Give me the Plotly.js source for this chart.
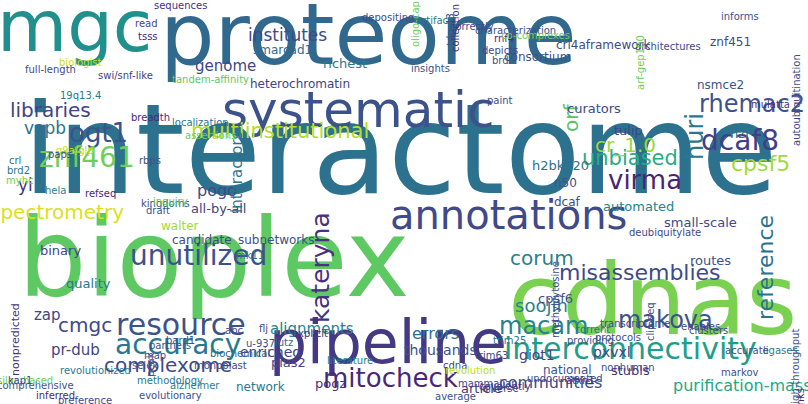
<!DOCTYPE html>
<html>
<head>
<meta charset="utf-8">
<script src="https://cdn.plot.ly/plotly-3.0.1.min.js"></script>
<style>html,body{margin:0;padding:0;background:#fff}#chart{width:808px;height:404px}</style>
</head>
<body>
<div id="chart"></div>
<script>
// word cloud: word, centre x, centre y (pixels), font size, colour, angle
const words = ['interactome','proteome','mgc','bioplex','cdnas','pipeline','systematic','annotations',
  'interconnectivity','multiinstitutional','rhemac2','dcaf8','cpsf5','ogt1','huri','unbiased','virma','znf461',
  'cr_1.0','libraries','orf','kateryna','unutilized','corum','misassemblies','reference','spectrometry','resource',
  'accuracy','complexome','macam','makova','mitocheck','soojin','cmgc','pr-dub','errors','thousands','alignments',
  'enriched','purification-mass','communities','article','network','pogz','giot1','pxvxl','stubls','national',
  'institutes','richest','consortium','curators','tulip','hzf','automated','small-scale','routes','heterochromatin',
  'genome','smarcad1','walter','candidate','subnetworks','binary','quality','zap','pias2','cpsf6','vapb','yi','dcaf',
  'h2bk120','n50','pogo','all-by-all','interactors','crl4aframework','znf451','nsmce2','sequences','read','tsss',
  'biologist','full-length','swi/snf-like','tandem-affinity','breadth','localization','assertions','g9a/glp','paps',
  'crl','brd2','myhc','hela','refseq','kingdoms','draft','inquiry','flj','lutz','mk11','abc','u-937','19q13.4',
  'nonpredicted','comprehensive','silac-based','inferred','preference','revolutionized','evolutionary','alzheimer',
  'diverse','covalently','markov','atxn1','undocumented','average','links','high-throughput','methodology',
  'monoblast','bard1','biochemical','kap1','selex','literature','cdna','revolution','mammalian','protocols',
  'torrent','transcriptome','clip-seq','clusters','ligases','accurate','nonhuman','rnf4','trim63','trim25',
  'characterization','depositing','artifact','correctly','co-complexes','architectures','informs','mulatta',
  'autoubiquitination','tdp-43','collection','oligo-cap','brd','depicts','arf-gep100','insights','paint',
  'deubiquitylate','methylcytosine','providing','enables','rbps','map','explicit','partners','peak'];
const xs = [400,368,74,214,652,388,358,508,630,280,752,740,760,98,695,630,645,87,
  625,50,571,320,198,542,640,765,57,181,178,168,543,665,390,541,85,75,435,440,312,
  270,742,550,481,260,330,537,612,630,567,
  287,345,537,594,628,740,638,700,710,300,
  225,282,180,202,276,60,88,47,288,555,45,25,567,
  560,565,217,218,237,603,730,720,180,146,148,
  80,50,125,210,150,200,210,75,60,
  15,18,20,55,100,165,158,170,263,284,250,234,260,80,
  15,35,25,55,85,95,170,195,
  500,505,740,580,565,455,800,795,170,
  220,180,240,20,145,350,455,470,488,618,
  593,635,650,708,780,747,628,504,491,509,
  515,388,434,472,535,668,740,770,
  796,450,455,415,500,500,640,430,500,
  665,555,590,700,150,155,310,170,150];
const ys = [150,34,26,258,300,342,110,215,348,131,104,140,163,133,137,158,180,157,
  145,110,118,268,255,258,272,268,212,324,344,365,326,320,378,305,325,350,333,350,329,
  352,385,382,388,387,383,355,352,370,370,
  35,63,57,108,130,133,206,222,260,84,
  66,50,226,240,240,250,283,315,362,298,128,185,202,
  165,183,190,208,172,45,42,85,5,23,36,
  62,69,75,79,117,122,135,150,154,
  160,170,180,190,193,203,210,201,328,342,255,330,343,95,
  340,385,380,395,400,370,395,385,
  388,386,372,380,378,396,400,370,380,
  365,340,353,380,365,360,365,370,383,337,
  329,323,322,330,350,350,367,38,355,340,
  30,17,20,26,35,46,16,104,
  100,30,28,24,60,50,63,68,100,
  232,300,340,326,160,355,333,345,365];
const sizes = [124,86,72,108,98,60,50,40,30,21,24,28,22,26,24,21,26,28,
  20,20,20,25,28,20,22,22,20,30,28,20,24,24,26,18,20,15,16,14,15,
  14,16,16,13,12,13,14,14,13,12,
  17,13,12,13,13,13,13,13,13,12,
  15,12,12,12,12,13,13,15,13,13,17,17,12,
  13,12,16,13,15,12,12,12,10,10,10,
  10,10,10,10,10,10,10,10,10,
  10,10,10,10,10,10,10,10,10,10,10,10,10,10,
  11,10,10,10,10,10,10,10,
  10,10,10,10,10,10,10,10,10,
  10,10,10,10,10,10,10,10,10,10,
  10,10,10,10,10,10,10,10,10,10,
  10,10,10,10,10,10,10,10,
  10,10,10,10,10,10,10,10,10,
  10,10,10,10,10,10,10,10,10];
const colors = ['#2c728e','#31688e','#21908d','#5ec962','#7ad151','#443983','#3b528b','#3e4a89',
  '#1f9e89','#b5de2b','#3b528b','#433e85','#a0da39','#3b528b','#2a788e','#27ad81','#482576','#6ece58',
  '#9bd93c','#414487','#52c569','#46327e','#3b528b','#26828e','#3e4a89','#2c728e','#d8e219','#3b528b',
  '#2a788e','#3e4a89','#26828e','#3b528b','#482878','#25848e','#3e4a89','#414487','#2c728e','#3b528b','#26828e',
  '#414487','#22a884','#3e4a89','#46337f','#2a788e','#46327e','#414487','#3e4a89','#46327e','#3b528b',
  '#3e4a89','#2a788e','#3b528b','#3e4a89','#414487','#2a788e','#26828e','#3e4a89','#3b528b','#414487',
  '#3e4a89','#31688e','#a0da39','#3e4a89','#3b528b','#414487','#2a788e','#414487','#3e4a89','#3b528b','#2c728e','#46327e','#3e4a89',
  '#2c728e','#3b528b','#3e4a89','#414487','#2c728e','#3e4a89','#3e4a89','#3b528b','#46327e','#3e4a89','#482878',
  '#c2df23','#3e4a89','#414487','#5ec962','#482878','#2a788e','#6ece58','#c2df23','#3b528b',
  '#2c728e','#2a788e','#6ece58','#26828e','#482878','#3b528b','#3b528b','#5ec962','#3e4a89','#31688e','#2c728e','#3e4a89','#3b528b','#2a788e',
  '#46327e','#3b528b','#6ece58','#482878','#3e4a89','#2a788e','#3b528b','#26828e',
  '#3e4a89','#46327e','#3b528b','#482878','#3e4a89','#3b528b','#482878','#3b528b','#2a788e',
  '#3e4a89','#3b528b','#31688e','#3e4a89','#3b528b','#2a788e','#3e4a89','#b5de2b','#3e4a89','#3b528b',
  '#2a788e','#3e4a89','#3b528b','#3e4a89','#2a788e','#3b528b','#3e4a89','#482878','#3e4a89','#2c728e',
  '#3b528b','#3e4a89','#2a788e','#3e4a89','#6ece58','#3e4a89','#3b528b','#46327e',
  '#3e4a89','#3b528b','#46327e','#6ece58','#3b528b','#3e4a89','#6ece58','#3b528b','#3e4a89',
  '#3e4a89','#3e4a89','#3b528b','#3e4a89','#3b528b','#3e4a89','#46327e','#3b528b','#3e4a89'];
const angles = {huri:-90, orf:-90, kateryna:-90, reference:-90, interactors:-90, 'high-throughput':-90,
  nonpredicted:-90, links:-90, 'arf-gep100':-90, 'clip-seq':-90,
  'autoubiquitination':-90, methylcytosine:-90, 'oligo-cap':-90, collection:-90, 'tdp-43':-90, peak:-90};

const annotations = words.map(function(w, i){
  return {
    text: w,
    x: xs[i], y: ys[i], xref: 'x', yref: 'y',
    xanchor: 'center', yanchor: 'middle',
    showarrow: false,
    textangle: angles[w] || 0,
    font: {family: 'DejaVu Sans', size: sizes[i], color: colors[i]}
  };
});

const layout = {
  width: 808, height: 404,
  margin: {l: 0, r: 0, t: 0, b: 0},
  paper_bgcolor: '#fff', plot_bgcolor: '#fff',
  xaxis: {range: [0, 808], visible: false, fixedrange: true},
  yaxis: {range: [404, 0], visible: false, fixedrange: true},
  annotations: annotations,
  showlegend: false
};
Plotly.newPlot('chart', [{x: [], y: [], type: 'scatter'}], layout, {staticPlot: true});
</script>
</body>
</html>
